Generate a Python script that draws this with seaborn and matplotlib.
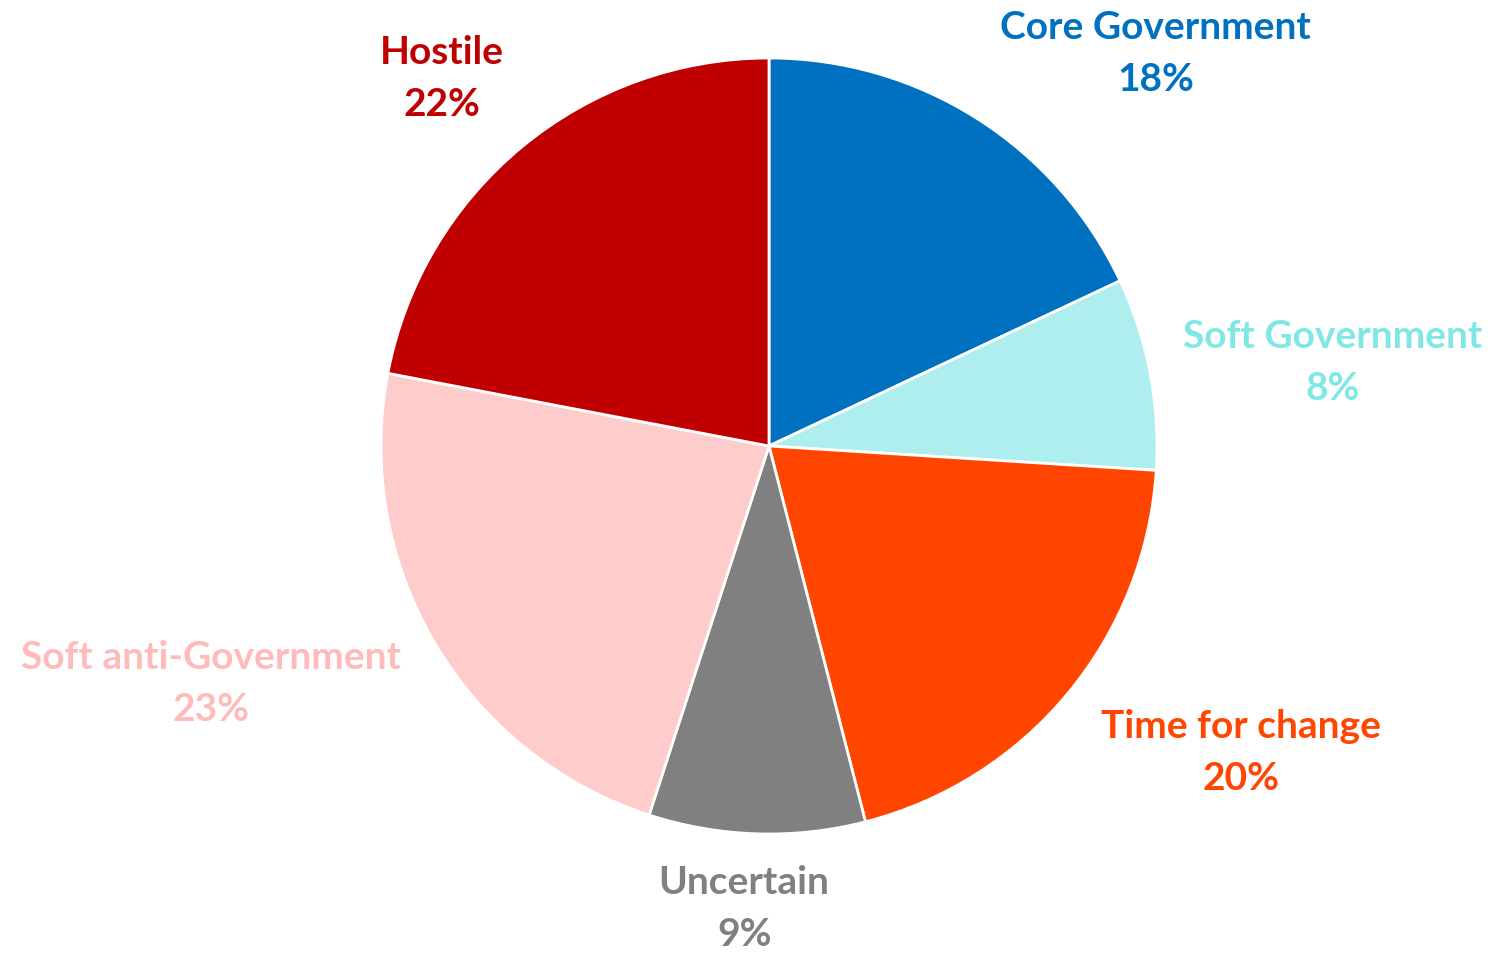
import matplotlib
matplotlib.use("Agg")
import matplotlib.pyplot as plt
import seaborn as sns

categories = ["Core Government", "Soft Government", "Time for change",
              "Uncertain", "Soft anti-Government", "Hostile"]
values = [18, 8, 20, 9, 23, 22]
slice_colors = ["#0070C0", "#AFEEEE", "#FF4500", "#808080", "#FFCCCC", "#C00000"]
label_colors = ["#0070C0", "#80E8E4", "#FF4500", "#808080", "#FFBABA", "#C00000"]
# label centres in pie-radius units (x, y of the name line)
label_pos = [(0.997, 1.078), (1.454, 0.281), (1.216, -0.724),
             (-0.064, -1.126), (-1.438, -0.544), (-0.843, 1.014)]

sns.set_theme(style="white")
plt.rcParams['font.family'] = ['Lato', 'DejaVu Sans']

fig = plt.figure(figsize=(14.99, 9.58), dpi=100)
ax = fig.add_axes([381/1499, (958-834)/958, 776/1499, 776/958])
ax.pie(values, colors=slice_colors, startangle=90, counterclock=False,
       wedgeprops=dict(edgecolor="white", linewidth=2))
ax.set_xlim(-1, 1)
ax.set_ylim(-1, 1)
ax.set_aspect("equal")
ax.axis("off")

step = 52 / 388
for name, v, (x, y), c in zip(categories, values, label_pos, label_colors):
    ax.text(x, y, name, ha="center", va="center", fontsize=28, fontweight="bold",
            color=c, clip_on=False)
    ax.text(x, y - step, f"{v}%", ha="center", va="center", fontsize=28,
            fontweight="bold", color=c, clip_on=False)

fig.savefig("out.png", dpi=100)
